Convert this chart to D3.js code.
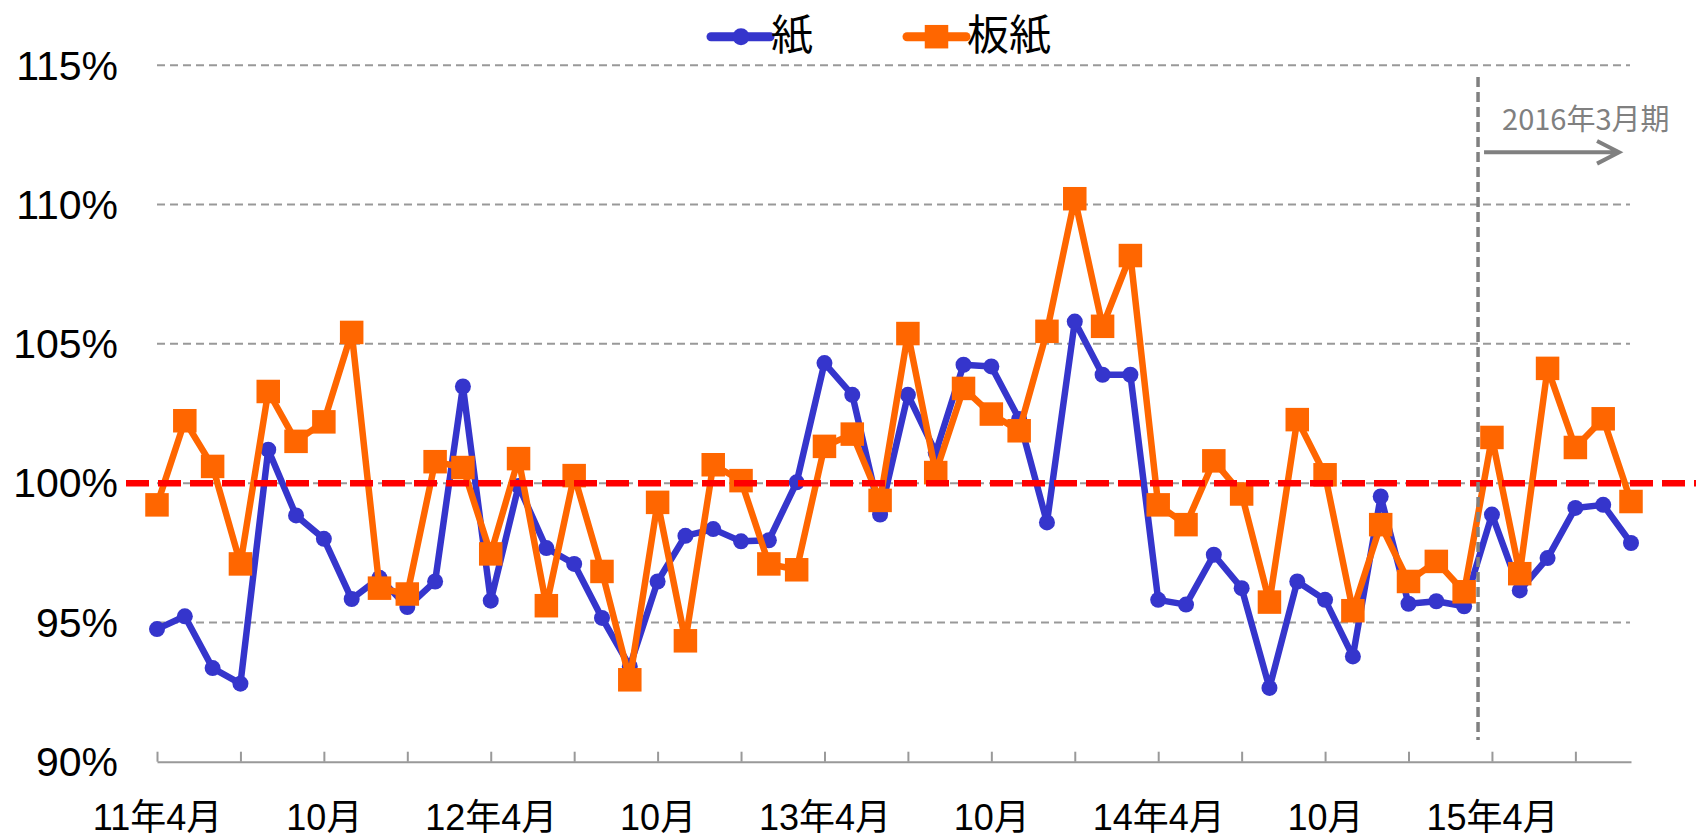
<!DOCTYPE html>
<html>
<head>
<meta charset="utf-8">
<script src="https://cdn.jsdelivr.net/npm/d3@7"></script>
<style>
  body { margin: 0; background: #fff; }
</style>
</head>
<body>
<div id="chart"></div>
<script>
// months from 2011-04 to 2015-09
const months = [
  "2011-04","2011-05","2011-06","2011-07","2011-08","2011-09","2011-10","2011-11","2011-12",
  "2012-01","2012-02","2012-03","2012-04","2012-05","2012-06","2012-07","2012-08","2012-09",
  "2012-10","2012-11","2012-12","2013-01","2013-02","2013-03","2013-04","2013-05","2013-06",
  "2013-07","2013-08","2013-09","2013-10","2013-11","2013-12","2014-01","2014-02","2014-03",
  "2014-04","2014-05","2014-06","2014-07","2014-08","2014-09","2014-10","2014-11","2014-12",
  "2015-01","2015-02","2015-03","2015-04","2015-05","2015-06","2015-07","2015-08","2015-09"
];

// 紙 (%)
const paper = [
  94.76, 95.22, 93.36, 92.80, 101.20, 98.84, 98.00, 95.84, 96.60,
  95.55, 96.47, 103.47, 95.78, 99.90, 97.67, 97.10, 95.16, 93.42,
  96.47, 98.11, 98.35, 97.91, 97.95, 100.03, 104.31, 103.17, 98.87,
  103.17, 101.10, 104.25, 104.19, 102.30, 98.59, 105.80, 103.89, 103.89,
  95.81, 95.64, 97.43, 96.23, 92.65, 96.47, 95.81, 93.78, 99.52,
  95.67, 95.76, 95.58, 98.87, 96.15, 97.31, 99.11, 99.22, 97.85
];

// 板紙 (%)
const board = [
  99.22, 102.24, 100.60, 97.10, 103.29, 101.50, 102.20, 105.41, 96.23,
  96.02, 100.77, 100.56, 97.46, 100.88, 95.60, 100.27, 96.83, 92.94,
  99.31, 94.34, 100.66, 100.09, 97.10, 96.89, 101.32, 101.76, 99.38,
  105.37, 100.38, 103.40, 102.48, 101.88, 105.45, 110.21, 105.63, 108.17,
  99.22, 98.51, 100.80, 99.61, 95.73, 102.28, 100.30, 95.42, 98.51,
  96.47, 97.19, 96.10, 101.64, 96.75, 104.12, 101.28, 102.31, 99.34
];

const yTicks = [90, 95, 100, 105, 110, 115];
const xTickLabels = ["11年4月", "10月", "12年4月", "10月", "13年4月", "10月", "14年4月", "10月", "15年4月"];
const seriesNames = ["紙", "板紙"];
const periodLabel = "2016年3月期";
const periodStart = "2015-04";
const baseline = 100;

const width = 1696, height = 839;
const blue = "#3535cc", orange = "#ff6600";

const svg = d3.select("#chart").append("svg")
    .attr("width", width)
    .attr("height", height)
    .style("display", "block");

const x = d3.scalePoint().domain(months).range([157, 1631]);
const y = d3.scaleLinear().domain([90, 115]).range([761.7, 65.3]);

// dashed grid
svg.append("g")
  .selectAll("line")
  .data(yTicks.filter(d => d > 90))
  .join("line")
    .attr("x1", 157)
    .attr("x2", 1630)
    .attr("y1", d => y(d))
    .attr("y2", d => y(d))
    .attr("stroke", "#999")
    .attr("stroke-width", 2)
    .attr("stroke-dasharray", "8,5");

// y labels
svg.append("g")
  .selectAll("text")
  .data(yTicks)
  .join("text")
    .attr("x", 118)
    .attr("y", d => y(d))
    .attr("dy", "0.35em")
    .attr("text-anchor", "end")
    .attr("font-family", "'Liberation Sans', Arial, sans-serif")
    .attr("font-size", 41)
    .attr("fill", "#000")
    .text(d => d + "%");

// x axis
const tickMonths = months.filter((d, i) => i % 3 === 0);
const labelMonths = months.filter((d, i) => i % 6 === 0);

const xAxis = d3.axisBottom(x)
    .tickValues(tickMonths)
    .tickSizeInner(-10)
    .tickSizeOuter(0)
    .tickPadding(43)
    .tickFormat(d => {
      const k = labelMonths.indexOf(d);
      return k >= 0 ? xTickLabels[k] : "";
    });

const gx = svg.append("g")
    .attr("transform", `translate(0,${y(90)})`)
    .call(xAxis);
gx.attr("font-family", "'Liberation Sans', 'Noto Sans CJK JP', sans-serif")
  .attr("font-size", 36);
gx.select(".domain").attr("stroke", "#999").attr("stroke-width", 2);
gx.selectAll(".tick line").attr("stroke", "#999").attr("stroke-width", 2);
gx.selectAll(".tick text").attr("fill", "#000");

// series
const line = d3.line()
    .x((d, i) => x(months[i]))
    .y(d => y(d));

svg.append("path")
    .datum(paper)
    .attr("d", line)
    .attr("fill", "none")
    .attr("stroke", blue)
    .attr("stroke-width", 6.5)
    .attr("stroke-linejoin", "round");

svg.append("g")
  .selectAll("circle")
  .data(paper)
  .join("circle")
    .attr("cx", (d, i) => x(months[i]))
    .attr("cy", d => y(d))
    .attr("r", 8)
    .attr("fill", blue);

svg.append("path")
    .datum(board)
    .attr("d", line)
    .attr("fill", "none")
    .attr("stroke", orange)
    .attr("stroke-width", 6.5)
    .attr("stroke-linejoin", "round");

const sq = 23.5;
svg.append("g")
  .selectAll("rect")
  .data(board)
  .join("rect")
    .attr("x", (d, i) => x(months[i]) - sq / 2)
    .attr("y", d => y(d) - sq / 2)
    .attr("width", sq)
    .attr("height", sq)
    .attr("fill", orange);

// red 100% line
svg.append("line")
    .attr("x1", 126)
    .attr("x2", width)
    .attr("y1", y(baseline))
    .attr("y2", y(baseline))
    .attr("stroke", "#ff0000")
    .attr("stroke-width", 6.5)
    .attr("stroke-dasharray", "23,9");

// fiscal year divider
const i0 = months.indexOf(periodStart);
const divX = (x(months[i0 - 1]) + x(months[i0])) / 2;

svg.append("line")
    .attr("x1", divX)
    .attr("x2", divX)
    .attr("y1", 77)
    .attr("y2", 740)
    .attr("stroke", "#808080")
    .attr("stroke-width", 3.5)
    .attr("stroke-dasharray", "10,5");

svg.append("path")
    .attr("d", `M${divX + 6},152.3H${divX + 141}M${divX + 119},141L${divX + 141},152.3L${divX + 119},163.6`)
    .attr("fill", "none")
    .attr("stroke", "#808080")
    .attr("stroke-width", 4);

svg.append("text")
    .attr("x", divX + 24)
    .attr("y", 130)
    .attr("font-family", "'Noto Sans CJK JP', sans-serif")
    .attr("font-size", 29)
    .attr("fill", "#808080")
    .text(periodLabel);

// legend
const legend = svg.append("g")
    .attr("font-family", "'Noto Sans CJK JP', sans-serif")
    .attr("font-size", 42);

const legendX = [711, 907];
const legendColors = [blue, orange];

legendX.forEach((lx, k) => {
  const g = legend.append("g").attr("transform", `translate(${lx},36.7)`);
  g.append("line")
      .attr("x1", 0).attr("x2", 59)
      .attr("stroke", legendColors[k])
      .attr("stroke-width", 9)
      .attr("stroke-linecap", "round");
  if (k === 0) {
    g.append("circle").attr("cx", 30).attr("r", 8.5).attr("fill", legendColors[k]);
  } else {
    g.append("rect").attr("x", 29.5 - sq / 2).attr("y", -sq / 2)
        .attr("width", sq).attr("height", sq).attr("fill", legendColors[k]);
  }
  g.append("text")
      .attr("x", 60)
      .attr("y", 13.3)
      .attr("fill", "#000")
      .text(seriesNames[k]);
});
</script>
</body>
</html>
